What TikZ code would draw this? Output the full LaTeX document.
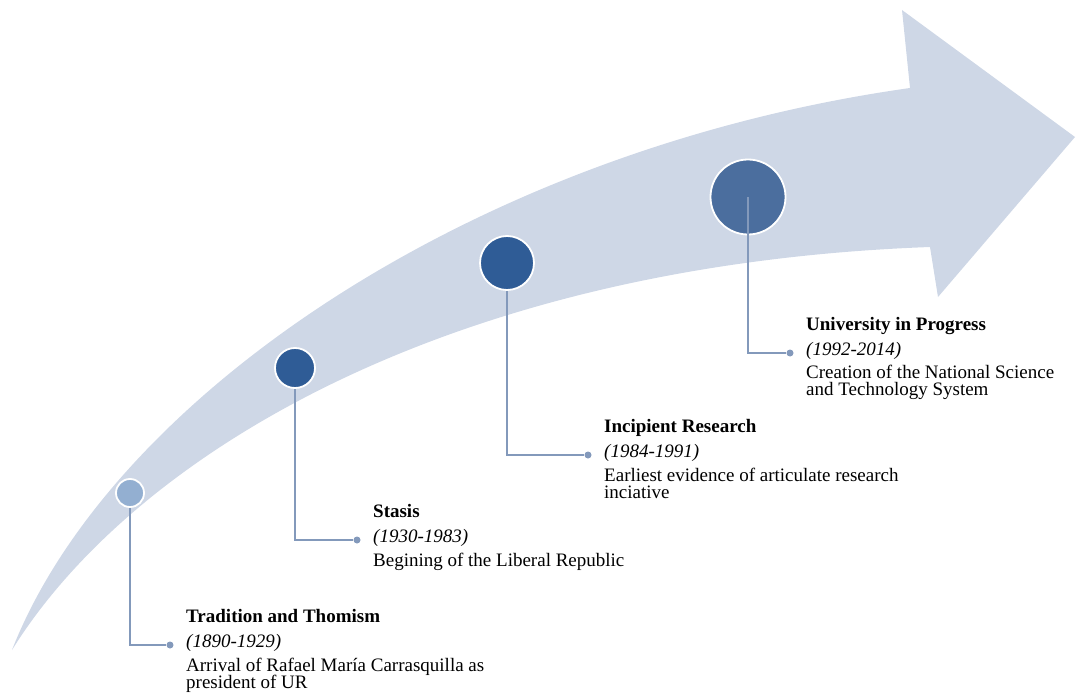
\documentclass[tikz,border=0pt]{standalone}
\usepackage{fontspec}
\setmainfont{Liberation Serif}
\definecolor{bandblue}{HTML}{CED7E6}
\definecolor{paleblue}{HTML}{93AFD1}
\definecolor{deepblue}{HTML}{2F5C96}
\definecolor{midblue}{HTML}{4B6E9E}
\definecolor{leadblue}{HTML}{8399BB}
\newcommand{\twolines}[2]{\vtop{\hbox{#1}\hbox{#2}}}
\begin{document}
\begin{tikzpicture}[x=1pt,y=-1pt,
    disc/.style={circle,draw=white,line width=1.8pt,inner sep=0pt,minimum size=#1},
    enddot/.style={circle,fill=leadblue,inner sep=0pt,minimum size=7pt},
    lead/.style={draw=leadblue,line width=1.3pt},
    txt/.style={anchor=base west,inner sep=0pt,
      font=\fontsize{19}{17.5}\selectfont}]
	  \useasboundingbox (0,0) rectangle (1077,698);

	  % curved arrow
	  \fill [bandblue] (12,650) .. controls (110,400) and (470,150) .. (910,88)
	    -- (902,10) -- (1075,137) -- (938,297) -- (930,247)
	    .. controls (440,265) and (130,460) .. (12,650) -- cycle;

	  \node [disc=28pt, fill=paleblue] (c1) at (130,493) {};
	  \node [disc=40pt, fill=deepblue] (c2) at (295,368) {};
	  \node [disc=54pt, fill=deepblue] (c3) at (507,263) {};
	  \node [disc=75pt, fill=midblue] (c4) at (748,197) {};

	  \node [enddot] (d1) at (170,645) {};
	  \node [enddot] (d2) at (357,540) {};
	  \node [enddot] (d3) at (588,455) {};
	  \node [enddot] (d4) at (790,353) {};

	  \draw [lead] (c1.south) |- (d1);
	  \draw [lead] (c2.south) |- (d2);
	  \draw [lead] (c3.south) |- (d3);
	  \draw [lead] (c4.center) |- (d4);

	  \node [txt] (t1) at (186,622) {\textbf{Tradition and Thomism}};
	  \node [txt] (y1) at (186,647) {\textit{(1890-1929)}};
	  \node [txt] (e1) at (186,671) {\twolines{Arrival of Rafael María Carrasquilla as}{president of UR}};

	  \node [txt] (t2) at (373,517) {\textbf{Stasis}};
	  \node [txt] (y2) at (373,542) {\textit{(1930-1983)}};
	  \node [txt] (e2) at (373,566) {Begining of the Liberal Republic};

	  \node [txt] (t3) at (604,432) {\textbf{Incipient Research}};
	  \node [txt] (y3) at (604,457) {\textit{(1984-1991)}};
	  \node [txt] (e3) at (604,481) {\twolines{Earliest evidence of articulate research}{inciative}};

	  \node [txt] (t4) at (806,330) {\textbf{University in Progress}};
	  \node [txt] (y4) at (806,355) {\textit{(1992-2014)}};
	  \node [txt] (e4) at (806,378) {\twolines{Creation of the National Science}{and Technology System}};
	\end{tikzpicture}
\end{document}
